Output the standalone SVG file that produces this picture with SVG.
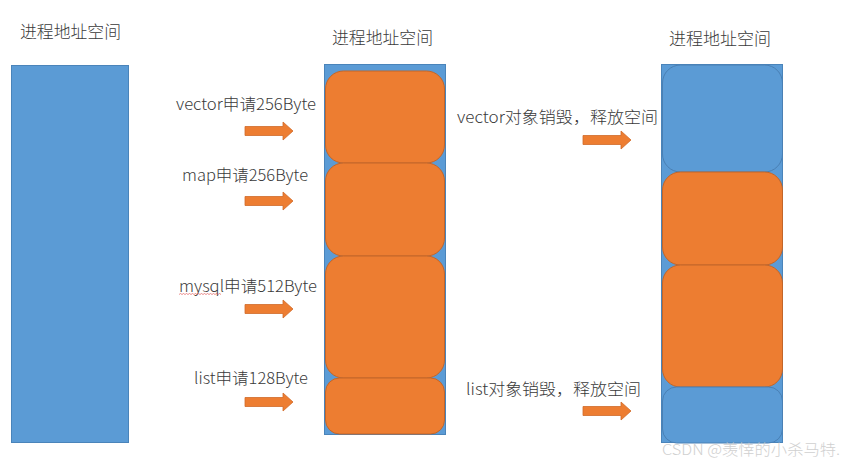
<svg xmlns="http://www.w3.org/2000/svg" width="842" height="465" viewBox="0 0 842 465">
<style>
text{font-family:"Noto Sans CJK SC","Noto Sans",sans-serif;fill:#3A3A3A;font-weight:300}
.title{font-size:17px}
.lbl{font-size:16px}
.col{fill:#5B9BD5;stroke:#4A84BA;stroke-width:1}
.ob{fill:#ED7D31;stroke:#C2662A;stroke-width:1}
.bb{fill:#5B9BD5;stroke:#4A80B4;stroke-width:1}
.arr{fill:#ED7D31;stroke:#D06A28;stroke-width:0.8}
.wm{font-size:15px;fill:#D0D0D0}
</style>
<defs>
<path id="arrow" class="arr" d="M0,-4.5 H38 V-9 L48,0 L38,9 V4.5 H0 Z"/>
</defs>
<rect width="842" height="465" fill="#FFFFFF"/>

<g id="space-initial">
<text class="title" x="20" y="38" textLength="101" lengthAdjust="spacingAndGlyphs">进程地址空间</text>
<rect class="col" x="11.5" y="65.5" width="117" height="377"/>
</g>

<g id="space-allocated">
<text class="title" x="332" y="44" textLength="101" lengthAdjust="spacingAndGlyphs">进程地址空间</text>
<rect class="col" x="324.5" y="64.5" width="121" height="370"/>
<rect id="blk-vector" class="ob" x="325.5" y="71" width="119" height="92" rx="18"/>
<rect id="blk-map" class="ob" x="325.5" y="163" width="119" height="93" rx="18"/>
<rect id="blk-mysql" class="ob" x="325.5" y="256" width="119" height="122" rx="18"/>
<rect id="blk-list" class="ob" x="325.5" y="378" width="119" height="56" rx="14"/>
</g>

<g id="space-freed">
<text class="title" x="669" y="45" textLength="102" lengthAdjust="spacingAndGlyphs">进程地址空间</text>
<rect class="col" x="661.5" y="64.5" width="121" height="378"/>
<rect id="blk-free1" class="bb" x="662.5" y="65" width="120" height="107" rx="18"/>
<rect id="blk-map2" class="ob" x="662.5" y="172" width="120" height="93" rx="18"/>
<rect id="blk-mysql2" class="ob" x="662.5" y="265" width="120" height="122" rx="18"/>
<rect id="blk-free2" class="bb" x="662.5" y="387" width="120" height="56" rx="14"/>
</g>

<g id="labels">
<text class="lbl" x="176" y="110" textLength="140" lengthAdjust="spacingAndGlyphs">vector申请256Byte</text>
<text class="lbl" x="182" y="181" textLength="126" lengthAdjust="spacingAndGlyphs">map申请256Byte</text>
<text class="lbl" x="179" y="292" textLength="138" lengthAdjust="spacingAndGlyphs">mysql申请512Byte</text>
<path d="M179,294.5 l1.5,-1 l1.5,1 l1.5,-1 l1.5,1 l1.5,-1 l1.5,1 l1.5,-1 l1.5,1 l1.5,-1 l1.5,1 l1.5,-1 l1.5,1 l1.5,-1 l1.5,1 l1.5,-1 l1.5,1 l1.5,-1 l1.5,1 l1.5,-1 l1.5,1 l1.5,-1 l1.5,1 l1.5,-1 l1.5,1 l1.5,-1 l1.5,1 l1.5,-1 l1.5,1" fill="none" stroke="#E05050" stroke-width="0.8" opacity="0.8"/>
<text class="lbl" x="194" y="384" textLength="114" lengthAdjust="spacingAndGlyphs">list申请128Byte</text>
<text class="lbl" x="457" y="123" textLength="201" lengthAdjust="spacingAndGlyphs">vector对象销毁，释放空间</text>
<text class="lbl" x="466" y="395" textLength="175" lengthAdjust="spacingAndGlyphs">list对象销毁，释放空间</text>
</g>

<g id="connectors">
<use href="#arrow" x="245" y="131"/>
<use href="#arrow" x="245" y="201"/>
<use href="#arrow" x="245" y="309"/>
<use href="#arrow" x="245" y="402"/>
<use href="#arrow" x="583" y="140"/>
<use href="#arrow" x="583" y="411"/>
</g>

<text class="wm" x="662" y="455" textLength="178" lengthAdjust="spacingAndGlyphs">CSDN @羡悻的小杀马特.</text>
</svg>
